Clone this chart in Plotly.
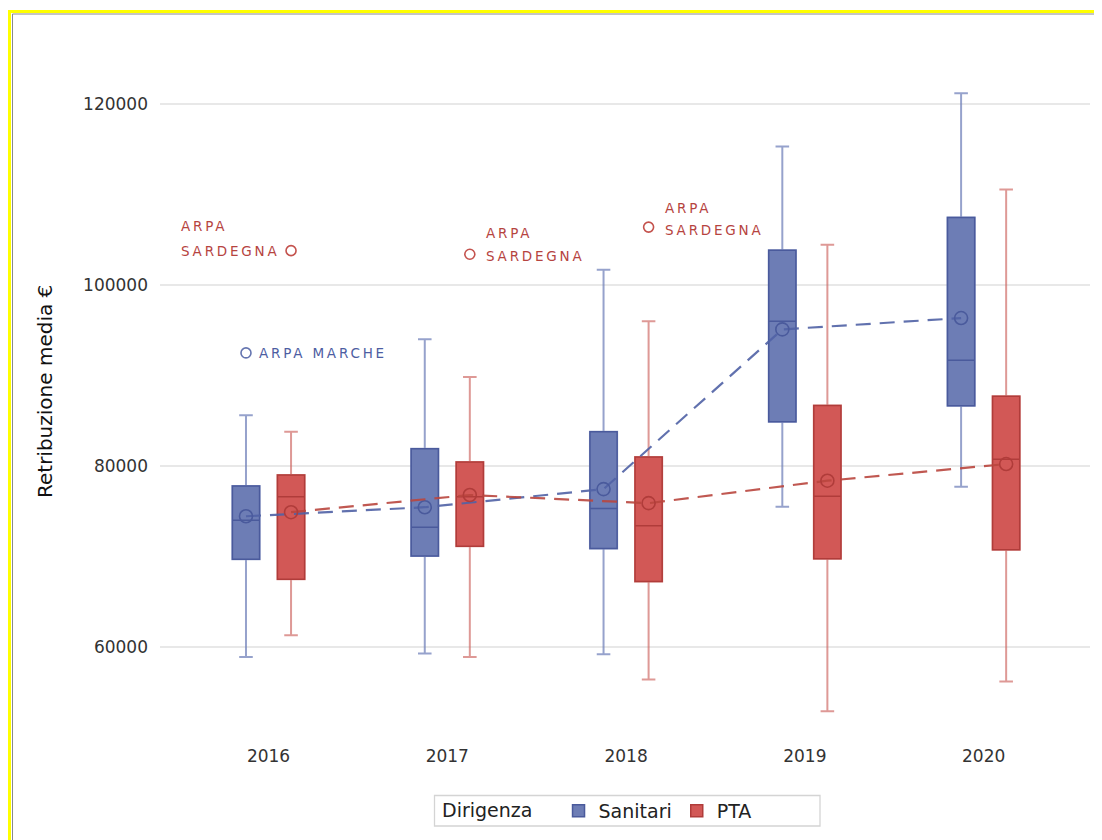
import plotly.graph_objects as go

# ---- data ----
years = ["2016", "2017", "2018", "2019", "2020"]

san_low = [58900, 59300, 59200, 75500, 77700]
san_q1 = [69700, 70050, 70900, 84900, 86650]
san_med = [74000, 73250, 75300, 96000, 91700]
san_q3 = [77800, 81900, 83800, 103850, 107450]
san_up = [85600, 94000, 101700, 115300, 121200]
san_mean = [74450, 75450, 77450, 95100, 96350]

pta_low = [61300, 58900, 56400, 52900, 56200]
pta_q1 = [67500, 71150, 67250, 69750, 70750]
pta_med = [76600, 76600, 73400, 76650, 80750]
pta_q3 = [79000, 80450, 81000, 86700, 87700]
pta_up = [83800, 89850, 96000, 104450, 110550]
pta_mean = [74900, 76800, 75900, 78380, 80220]

out_san_year = [0]
out_san_val = [92500]
out_san_label = ["ARPA MARCHE"]

out_pta_year = [0, 1, 2]
out_pta_val = [103800, 103400, 106400]
out_pta_label = ["ARPA SARDEGNA", "ARPA SARDEGNA", "ARPA SARDEGNA"]

# ---- styling ----
FONT = "DejaVu Sans"
BLUE_FILL = "#6d7db5"
BLUE_LINE = "#4a5a9c"
BLUE_WHISK = "rgba(110,126,185,0.72)"
BLUE_MEAN = "rgba(80,98,165,0.9)"
BLUE_TXT = "#4d5da2"
RED_FILL = "#d25856"
RED_LINE = "#b03c3a"
RED_WHISK = "rgba(205,100,96,0.66)"
RED_MEAN = "rgba(185,70,62,0.9)"
RED_TXT = "#b6443f"

OFF = 0.126
BW = 0.152

pos = list(range(len(years)))
san_x = [p - OFF for p in pos]
pta_x = [p + OFF for p in pos]

fig = go.Figure()


def add_box(x, low, q1, med, q3, up, fill, line, whisk, name):
    # whiskers layer (lighter)
    fig.add_trace(go.Box(
        x=x, q1=q1, median=med, q3=q3, lowerfence=low, upperfence=up,
        width=BW, whiskerwidth=0.5, boxpoints=False,
        fillcolor=fill, line=dict(color=whisk, width=2),
        showlegend=False, hoverinfo="skip", name=name,
    ))
    # box body layer (darker outline)
    fig.add_trace(go.Box(
        x=x, q1=q1, median=med, q3=q3, lowerfence=q1, upperfence=q3,
        width=BW, whiskerwidth=0, boxpoints=False,
        fillcolor=fill, line=dict(color=line, width=1.5),
        showlegend=True, hoverinfo="skip", name=name,
    ))


add_box(san_x, san_low, san_q1, san_med, san_q3, san_up, BLUE_FILL, BLUE_LINE, BLUE_WHISK, "Sanitari")
add_box(pta_x, pta_low, pta_q1, pta_med, pta_q3, pta_up, RED_FILL, RED_LINE, RED_WHISK, "PTA")

# mean lines
fig.add_trace(go.Scatter(
    x=san_x, y=san_mean, mode="lines+markers",
    line=dict(color=BLUE_MEAN, width=2.2, dash="15px,9px"),
    marker=dict(symbol="circle-open", size=13, color=BLUE_LINE, line=dict(width=1.6)),
    showlegend=False, hoverinfo="skip",
))
fig.add_trace(go.Scatter(
    x=pta_x, y=pta_mean, mode="lines+markers",
    line=dict(color=RED_MEAN, width=2.2, dash="15px,9px"),
    marker=dict(symbol="circle-open", size=13, color=RED_LINE, line=dict(width=1.6)),
    showlegend=False, hoverinfo="skip",
))

# outliers
fig.add_trace(go.Scatter(
    x=[p - OFF for p in out_san_year], y=out_san_val, mode="markers",
    marker=dict(symbol="circle-open", size=10, color="#6575b0", line=dict(width=1.6)),
    showlegend=False, hoverinfo="skip",
))
fig.add_trace(go.Scatter(
    x=[p + OFF for p in out_pta_year], y=out_pta_val, mode="markers",
    marker=dict(symbol="circle-open", size=10, color="#c4524d", line=dict(width=1.6)),
    showlegend=False, hoverinfo="skip",
))

SP = '<span style="letter-spacing:2.8px">{}</span>'
LBL_FONT = dict(family=FONT, size=13.5)

# ARPA MARCHE label (single line, right of marker)
for yr, v, lab in zip(out_san_year, out_san_val, out_san_label):
    fig.add_annotation(x=yr - OFF, y=v, text=SP.format(lab), showarrow=False,
                       xanchor="left", yanchor="middle", xshift=11,
                       font=dict(color=BLUE_TXT, **LBL_FONT))

# ARPA SARDEGNA labels (two lines)
pta_label_layout = [  # (xshift, yshift first line, yshift second line)
    (-112, 25, 0),
    (14, 21, -2),
    (14, 19, -3),
]
for (yr, v, lab), (xs, y1, y2) in zip(zip(out_pta_year, out_pta_val, out_pta_label), pta_label_layout):
    w1, w2 = lab.split(" ", 1)
    fig.add_annotation(x=yr + OFF, y=v, text=SP.format(w1), showarrow=False,
                       xanchor="left", yanchor="middle", xshift=xs, yshift=y1,
                       font=dict(color=RED_TXT, **LBL_FONT))
    fig.add_annotation(x=yr + OFF, y=v, text=SP.format(w2), showarrow=False,
                       xanchor="left", yanchor="middle", xshift=xs, yshift=y2,
                       font=dict(color=RED_TXT, **LBL_FONT))

# ---- layout geometry (reference pixel coords; page has 8px body margin) ----
OX, OY = 8, 8
W, H = 1102 - OX, 840 - OY
PL, PR, PT, PB = 160, 1090, 32, 737   # plot area in reference pixels
L = PL - OX
T = PT - OY
R = W - (PR - OX)
B = H - (PB - OY)
PW = PR - PL
PH = PB - PT


def px(xp):
    return (xp - PL) / PW


def py(yp):
    return (PB - yp) / PH


# y axis title
fig.add_annotation(xref="paper", yref="paper", x=px(45), y=py(392),
                   text="Retribuzione media €", textangle=-90, showarrow=False,
                   xanchor="center", yanchor="middle",
                   font=dict(family=FONT, size=20, color="#111111"))

# yellow frame
fig.add_shape(type="rect", xref="paper", yref="paper",
              x0=px(9.5), y0=py(1200), x1=px(1400), y1=py(11.5),
              line=dict(color="#ffff00", width=3), layer="above")
fig.add_shape(type="rect", xref="paper", yref="paper",
              x0=px(12.5), y0=py(1200), x1=px(1400), y1=py(14),
              line=dict(color="#8a8a8a", width=1), layer="above")

# legend frame
fig.add_shape(type="rect", xref="paper", yref="paper",
              x0=px(434.5), y0=py(826), x1=px(820), y1=py(795.5),
              line=dict(color="#d4d4d4", width=1.3), layer="above")

fig.update_layout(
    width=W, height=H,
    margin=dict(l=L, r=R, t=T, b=B, autoexpand=False),
    paper_bgcolor="white", plot_bgcolor="white",
    boxmode="overlay",
    font=dict(family=FONT, size=17, color="#333333"),
    xaxis=dict(
        range=[-0.607, 4.595], tickmode="array", tickvals=pos, ticktext=years,
        showgrid=False, zeroline=False, showline=False, ticks="",
        tickfont=dict(family=FONT, size=17, color="#333333"),
        ticklabelstandoff=7,
    ),
    yaxis=dict(
        range=[50060, 127960], tickmode="array",
        tickvals=[60000, 80000, 100000, 120000],
        ticktext=["60000", "80000", "100000", "120000"],
        showgrid=True, gridcolor="#e8e8e8", gridwidth=1.5,
        zeroline=False, showline=False, ticks="",
        tickfont=dict(family=FONT, size=17, color="#333333"),
        ticklabelstandoff=11,
    ),
    legend=dict(
        orientation="h", x=px(440), xanchor="left", y=py(792), yanchor="top",
        bgcolor="rgba(0,0,0,0)", borderwidth=0,
        font=dict(family=FONT, size=19, color="#222222"),
        title=dict(text="Dirigenza\u00a0\u00a0\u00a0",
                   font=dict(family=FONT, size=19, color="#222222")),
        itemclick=False, itemdoubleclick=False,
    ),
    hovermode=False,
)

fig.write_html("out.html")
